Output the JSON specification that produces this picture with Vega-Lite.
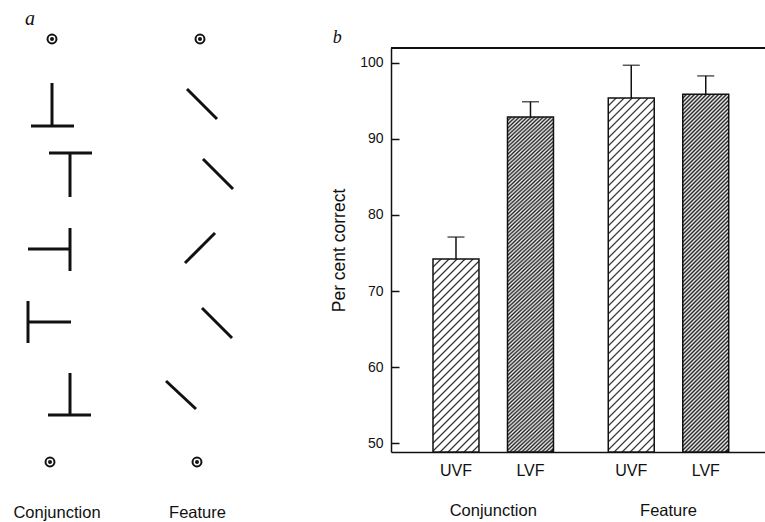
{
  "$schema": "https://vega.github.io/schema/vega-lite/v6.json",
  "padding": {"left": 0, "top": 9, "right": 0, "bottom": 0},
  "bounds": "flush",
  "spacing": 0,
  "config": {
    "view": {"stroke": null},
    "font": "Liberation Sans",
    "text": {"font": "Liberation Sans"},
    "axis": {"labelFont": "Liberation Sans", "titleFont": "Liberation Sans"}
  },
  "hconcat": [
    {
      "width": 391,
      "height": 404,
      "data": {"values": [
        {"kind": "seg", "x": 5.2, "y": 8.3, "x2": 5.2, "y2": 12.6},
        {"kind": "seg", "x": 3.1, "y": 12.6, "x2": 7.4, "y2": 12.6},
        {"kind": "seg", "x": 4.9, "y": 15.3, "x2": 9.2, "y2": 15.3},
        {"kind": "seg", "x": 7.0, "y": 15.3, "x2": 7.0, "y2": 19.7},
        {"kind": "seg", "x": 7.0, "y": 22.8, "x2": 7.0, "y2": 27.1},
        {"kind": "seg", "x": 2.8, "y": 24.9, "x2": 7.0, "y2": 24.9},
        {"kind": "seg", "x": 2.8, "y": 30.1, "x2": 2.8, "y2": 34.3},
        {"kind": "seg", "x": 2.8, "y": 32.2, "x2": 7.1, "y2": 32.2},
        {"kind": "seg", "x": 7.0, "y": 37.3, "x2": 7.0, "y2": 41.5},
        {"kind": "seg", "x": 4.8, "y": 41.5, "x2": 9.1, "y2": 41.5},
        {"kind": "seg", "x": 18.7, "y": 8.9, "x2": 21.7, "y2": 11.9},
        {"kind": "seg", "x": 20.3, "y": 15.9, "x2": 23.3, "y2": 18.9},
        {"kind": "seg", "x": 21.5, "y": 23.3, "x2": 18.5, "y2": 26.3},
        {"kind": "seg", "x": 20.2, "y": 30.8, "x2": 23.2, "y2": 33.8},
        {"kind": "seg", "x": 16.6, "y": 38.1, "x2": 19.6, "y2": 40.9},
        {"kind": "dot", "x": 5.2, "y": 3.9},
        {"kind": "dot", "x": 20.0, "y": 3.9},
        {"kind": "dot", "x": 5.0, "y": 46.2},
        {"kind": "dot", "x": 19.7, "y": 46.2},
        {"kind": "label", "x": 5.7, "y": 51.8, "text": "Conjunction"},
        {"kind": "label", "x": 19.75, "y": 51.8, "text": "Feature"},
        {"kind": "panel", "x": 2.5, "y": 2.5, "text": "a"}
      ]},
      "encoding": {
        "x": {"field": "x", "type": "quantitative", "scale": {"domain": [0, 39.1], "nice": false, "zero": false}, "axis": null},
        "y": {"field": "y", "type": "quantitative", "scale": {"domain": [4.8, 45.2], "nice": false, "zero": false, "reverse": true}, "axis": null}
      },
      "layer": [
        {
          "transform": [{"filter": "datum.kind === 'seg'"}],
          "mark": {"type": "rule", "strokeWidth": 3, "color": "#111", "strokeCap": "butt"},
          "encoding": {"x2": {"field": "x2"}, "y2": {"field": "y2"}}
        },
        {
          "transform": [{"filter": "datum.kind === 'dot'"}],
          "mark": {"type": "point", "shape": "circle", "size": 80, "stroke": "#111", "strokeWidth": 2, "filled": false, "opacity": 1}
        },
        {
          "transform": [{"filter": "datum.kind === 'dot'"}],
          "mark": {"type": "point", "shape": "circle", "size": 16, "filled": true, "color": "#111", "opacity": 1}
        },
        {
          "transform": [{"filter": "datum.kind === 'label'"}],
          "mark": {"type": "text", "fontSize": 16.5, "align": "center", "baseline": "alphabetic", "color": "#111"},
          "encoding": {"text": {"field": "text"}}
        },
        {
          "transform": [{"filter": "datum.kind === 'panel'"}],
          "mark": {"type": "text", "font": "Liberation Serif", "fontStyle": "italic", "fontSize": 20, "align": "left", "baseline": "alphabetic", "color": "#111"},
          "encoding": {"text": {"field": "text"}}
        }
      ]
    },
    {
      "width": 374,
      "height": 404,
      "title": {"text": "b", "anchor": "start", "dx": 2, "offset": 0, "font": "Liberation Serif", "fontStyle": "italic", "fontSize": 18, "fontWeight": "normal", "color": "#111"},
      "data": {"values": [
        {"group": "Conjunction", "field": "UVF", "pct": 74.2, "upper": 77.1},
        {"group": "Conjunction", "field": "LVF", "pct": 92.9, "upper": 94.9},
        {"group": "Feature", "field": "UVF", "pct": 95.4, "upper": 99.7},
        {"group": "Feature", "field": "LVF", "pct": 95.9, "upper": 98.3}
      ]},
      "layer": [
        {
          "mark": {"type": "rule", "color": "#111", "strokeWidth": 1.5},
          "encoding": {"y": {"datum": 101.97, "type": "quantitative"}}
        },
        {
          "mark": {"type": "bar", "stroke": "#111", "strokeWidth": 1.5},
          "encoding": {
            "x": {"field": "group", "type": "nominal", "sort": ["Conjunction", "Feature"],
              "scale": {"paddingInner": 0, "paddingOuter": 0.067, "align": 0.622},
              "axis": {"title": null, "ticks": false, "domainColor": "#111", "domainWidth": 1.5, "labelFontSize": 16.5, "labelColor": "#111", "labelAngle": 0, "labelPadding": 63, "labelBaseline": "alphabetic"}},
            "xOffset": {"field": "field", "type": "nominal", "sort": ["UVF", "LVF"], "scale": {"paddingInner": 0.383, "paddingOuter": 0.3677}},
            "y": {"field": "pct", "type": "quantitative",
              "scale": {"domain": [48.82, 101.97], "nice": false, "zero": false},
              "axis": {"values": [50, 60, 70, 80, 90, 100], "tickSize": -8, "labelPadding": 16, "tickWidth": 1.5, "tickColor": "#111", "domainColor": "#111", "domainWidth": 1.5, "labelFontSize": 14, "labelColor": "#111", "grid": false, "title": "Per cent correct", "titleFontSize": 17.5, "titleFontWeight": "normal", "titleColor": "#111", "titlePadding": 11}},
            "y2": {"datum": 48.82},
            "fill": {
              "condition": [
                {"test": "datum.group === 'Conjunction' && datum.field === 'UVF'", "value": {"gradient": "linear", "x1": 0, "y1": 0, "x2": 0.4676, "y2": 1.9622, "stops": [
                  {"offset":0,"color":"#222"},{"offset":0.004,"color":"#fff"},{"offset":0.016,"color":"#fff"},
                  {"offset":0.02,"color":"#222"},{"offset":0.024,"color":"#fff"},{"offset":0.036,"color":"#fff"},
                  {"offset":0.04,"color":"#222"},{"offset":0.044,"color":"#fff"},{"offset":0.056,"color":"#fff"},
                  {"offset":0.06,"color":"#222"},{"offset":0.064,"color":"#fff"},{"offset":0.076,"color":"#fff"},
                  {"offset":0.08,"color":"#222"},{"offset":0.084,"color":"#fff"},{"offset":0.096,"color":"#fff"},
                  {"offset":0.10,"color":"#222"},{"offset":0.104,"color":"#fff"},{"offset":0.116,"color":"#fff"},
                  {"offset":0.12,"color":"#222"},{"offset":0.124,"color":"#fff"},{"offset":0.136,"color":"#fff"},
                  {"offset":0.14,"color":"#222"},{"offset":0.144,"color":"#fff"},{"offset":0.156,"color":"#fff"},
                  {"offset":0.16,"color":"#222"},{"offset":0.164,"color":"#fff"},{"offset":0.176,"color":"#fff"},
                  {"offset":0.18,"color":"#222"},{"offset":0.184,"color":"#fff"},{"offset":0.196,"color":"#fff"},
                  {"offset":0.20,"color":"#222"},{"offset":0.204,"color":"#fff"},{"offset":0.216,"color":"#fff"},
                  {"offset":0.22,"color":"#222"},{"offset":0.224,"color":"#fff"},{"offset":0.236,"color":"#fff"},
                  {"offset":0.24,"color":"#222"},{"offset":0.244,"color":"#fff"},{"offset":0.256,"color":"#fff"},
                  {"offset":0.26,"color":"#222"},{"offset":0.264,"color":"#fff"},{"offset":0.276,"color":"#fff"},
                  {"offset":0.28,"color":"#222"},{"offset":0.284,"color":"#fff"},{"offset":0.296,"color":"#fff"},
                  {"offset":0.30,"color":"#222"},{"offset":0.304,"color":"#fff"},{"offset":0.316,"color":"#fff"},
                  {"offset":0.32,"color":"#222"},{"offset":0.324,"color":"#fff"},{"offset":0.336,"color":"#fff"},
                  {"offset":0.34,"color":"#222"},{"offset":0.344,"color":"#fff"},{"offset":0.356,"color":"#fff"},
                  {"offset":0.36,"color":"#222"},{"offset":0.364,"color":"#fff"},{"offset":0.376,"color":"#fff"},
                  {"offset":0.38,"color":"#222"},{"offset":0.384,"color":"#fff"},{"offset":0.396,"color":"#fff"},
                  {"offset":0.40,"color":"#222"},{"offset":0.404,"color":"#fff"},{"offset":0.416,"color":"#fff"},
                  {"offset":0.42,"color":"#222"},{"offset":0.424,"color":"#fff"},{"offset":0.436,"color":"#fff"},
                  {"offset":0.44,"color":"#222"},{"offset":0.444,"color":"#fff"},{"offset":0.456,"color":"#fff"},
                  {"offset":0.46,"color":"#222"},{"offset":0.464,"color":"#fff"},{"offset":0.476,"color":"#fff"},
                  {"offset":0.48,"color":"#222"},{"offset":0.484,"color":"#fff"},{"offset":0.496,"color":"#fff"},
                  {"offset":0.50,"color":"#222"},{"offset":0.504,"color":"#fff"},{"offset":0.516,"color":"#fff"},
                  {"offset":0.52,"color":"#222"},{"offset":0.524,"color":"#fff"},{"offset":0.536,"color":"#fff"},
                  {"offset":0.54,"color":"#222"},{"offset":0.544,"color":"#fff"},{"offset":0.556,"color":"#fff"},
                  {"offset":0.56,"color":"#222"},{"offset":0.564,"color":"#fff"},{"offset":0.576,"color":"#fff"},
                  {"offset":0.58,"color":"#222"},{"offset":0.584,"color":"#fff"},{"offset":0.596,"color":"#fff"},
                  {"offset":0.60,"color":"#222"}
                ]}},
                {"test": "datum.group === 'Feature' && datum.field === 'UVF'", "value": {"gradient": "linear", "x1": 0, "y1": 0, "x2": 0.14425, "y2": 1.111, "stops": [
                  {"offset":0,"color":"#222"},{"offset":0.004,"color":"#fff"},{"offset":0.016,"color":"#fff"},
                  {"offset":0.02,"color":"#222"},{"offset":0.024,"color":"#fff"},{"offset":0.036,"color":"#fff"},
                  {"offset":0.04,"color":"#222"},{"offset":0.044,"color":"#fff"},{"offset":0.056,"color":"#fff"},
                  {"offset":0.06,"color":"#222"},{"offset":0.064,"color":"#fff"},{"offset":0.076,"color":"#fff"},
                  {"offset":0.08,"color":"#222"},{"offset":0.084,"color":"#fff"},{"offset":0.096,"color":"#fff"},
                  {"offset":0.10,"color":"#222"},{"offset":0.104,"color":"#fff"},{"offset":0.116,"color":"#fff"},
                  {"offset":0.12,"color":"#222"},{"offset":0.124,"color":"#fff"},{"offset":0.136,"color":"#fff"},
                  {"offset":0.14,"color":"#222"},{"offset":0.144,"color":"#fff"},{"offset":0.156,"color":"#fff"},
                  {"offset":0.16,"color":"#222"},{"offset":0.164,"color":"#fff"},{"offset":0.176,"color":"#fff"},
                  {"offset":0.18,"color":"#222"},{"offset":0.184,"color":"#fff"},{"offset":0.196,"color":"#fff"},
                  {"offset":0.20,"color":"#222"},{"offset":0.204,"color":"#fff"},{"offset":0.216,"color":"#fff"},
                  {"offset":0.22,"color":"#222"},{"offset":0.224,"color":"#fff"},{"offset":0.236,"color":"#fff"},
                  {"offset":0.24,"color":"#222"},{"offset":0.244,"color":"#fff"},{"offset":0.256,"color":"#fff"},
                  {"offset":0.26,"color":"#222"},{"offset":0.264,"color":"#fff"},{"offset":0.276,"color":"#fff"},
                  {"offset":0.28,"color":"#222"},{"offset":0.284,"color":"#fff"},{"offset":0.296,"color":"#fff"},
                  {"offset":0.30,"color":"#222"},{"offset":0.304,"color":"#fff"},{"offset":0.316,"color":"#fff"},
                  {"offset":0.32,"color":"#222"},{"offset":0.324,"color":"#fff"},{"offset":0.336,"color":"#fff"},
                  {"offset":0.34,"color":"#222"},{"offset":0.344,"color":"#fff"},{"offset":0.356,"color":"#fff"},
                  {"offset":0.36,"color":"#222"},{"offset":0.364,"color":"#fff"},{"offset":0.376,"color":"#fff"},
                  {"offset":0.38,"color":"#222"},{"offset":0.384,"color":"#fff"},{"offset":0.396,"color":"#fff"},
                  {"offset":0.40,"color":"#222"},{"offset":0.404,"color":"#fff"},{"offset":0.416,"color":"#fff"},
                  {"offset":0.42,"color":"#222"},{"offset":0.424,"color":"#fff"},{"offset":0.436,"color":"#fff"},
                  {"offset":0.44,"color":"#222"},{"offset":0.444,"color":"#fff"},{"offset":0.456,"color":"#fff"},
                  {"offset":0.46,"color":"#222"},{"offset":0.464,"color":"#fff"},{"offset":0.476,"color":"#fff"},
                  {"offset":0.48,"color":"#222"},{"offset":0.484,"color":"#fff"},{"offset":0.496,"color":"#fff"},
                  {"offset":0.50,"color":"#222"},{"offset":0.504,"color":"#fff"},{"offset":0.516,"color":"#fff"},
                  {"offset":0.52,"color":"#222"},{"offset":0.524,"color":"#fff"},{"offset":0.536,"color":"#fff"},
                  {"offset":0.54,"color":"#222"},{"offset":0.544,"color":"#fff"},{"offset":0.556,"color":"#fff"},
                  {"offset":0.56,"color":"#222"},{"offset":0.564,"color":"#fff"},{"offset":0.576,"color":"#fff"},
                  {"offset":0.58,"color":"#222"},{"offset":0.584,"color":"#fff"},{"offset":0.596,"color":"#fff"},
                  {"offset":0.60,"color":"#222"},{"offset":0.604,"color":"#fff"},{"offset":0.616,"color":"#fff"},
                  {"offset":0.62,"color":"#222"},{"offset":0.624,"color":"#fff"},{"offset":0.636,"color":"#fff"},
                  {"offset":0.64,"color":"#222"},{"offset":0.644,"color":"#fff"},{"offset":0.656,"color":"#fff"},
                  {"offset":0.66,"color":"#222"},{"offset":0.664,"color":"#fff"},{"offset":0.676,"color":"#fff"},
                  {"offset":0.68,"color":"#222"},{"offset":0.684,"color":"#fff"},{"offset":0.696,"color":"#fff"},
                  {"offset":0.70,"color":"#222"},{"offset":0.704,"color":"#fff"},{"offset":0.716,"color":"#fff"},
                  {"offset":0.72,"color":"#222"},{"offset":0.724,"color":"#fff"},{"offset":0.736,"color":"#fff"},
                  {"offset":0.74,"color":"#222"},{"offset":0.744,"color":"#fff"},{"offset":0.756,"color":"#fff"},
                  {"offset":0.76,"color":"#222"},{"offset":0.764,"color":"#fff"},{"offset":0.776,"color":"#fff"},
                  {"offset":0.78,"color":"#222"},{"offset":0.784,"color":"#fff"},{"offset":0.796,"color":"#fff"},
                  {"offset":0.80,"color":"#222"},{"offset":0.804,"color":"#fff"},{"offset":0.816,"color":"#fff"},
                  {"offset":0.82,"color":"#222"},{"offset":0.824,"color":"#fff"},{"offset":0.836,"color":"#fff"},
                  {"offset":0.84,"color":"#222"},{"offset":0.844,"color":"#fff"},{"offset":0.856,"color":"#fff"},
                  {"offset":0.86,"color":"#222"},{"offset":0.864,"color":"#fff"},{"offset":0.876,"color":"#fff"},
                  {"offset":0.88,"color":"#222"},{"offset":0.884,"color":"#fff"},{"offset":0.896,"color":"#fff"},
                  {"offset":0.90,"color":"#222"},{"offset":0.904,"color":"#fff"},{"offset":0.916,"color":"#fff"},
                  {"offset":0.92,"color":"#222"},{"offset":0.924,"color":"#fff"},{"offset":0.936,"color":"#fff"},
                  {"offset":0.94,"color":"#222"},{"offset":0.944,"color":"#fff"},{"offset":0.956,"color":"#fff"},
                  {"offset":0.96,"color":"#222"},{"offset":0.964,"color":"#fff"},{"offset":0.976,"color":"#fff"},
                  {"offset":0.98,"color":"#222"},{"offset":0.984,"color":"#fff"},{"offset":0.996,"color":"#fff"},
                  {"offset":1,"color":"#222"}
                ]}}
              ],
              "value": {"gradient": "linear", "x1": 0, "y1": 0, "x2": 0.14125, "y2": 1.0996, "stops": [
                {"offset":0,"color":"#222"},{"offset":0.005,"color":"#eee"},{"offset":0.01,"color":"#222"},{"offset":0.015,"color":"#eee"},{"offset":0.02,"color":"#222"},{"offset":0.025,"color":"#eee"},{"offset":0.03,"color":"#222"},{"offset":0.035,"color":"#eee"},{"offset":0.04,"color":"#222"},{"offset":0.045,"color":"#eee"},
                {"offset":0.05,"color":"#222"},{"offset":0.055,"color":"#eee"},{"offset":0.06,"color":"#222"},{"offset":0.065,"color":"#eee"},{"offset":0.07,"color":"#222"},{"offset":0.075,"color":"#eee"},{"offset":0.08,"color":"#222"},{"offset":0.085,"color":"#eee"},{"offset":0.09,"color":"#222"},{"offset":0.095,"color":"#eee"},
                {"offset":0.1,"color":"#222"},{"offset":0.105,"color":"#eee"},{"offset":0.11,"color":"#222"},{"offset":0.115,"color":"#eee"},{"offset":0.12,"color":"#222"},{"offset":0.125,"color":"#eee"},{"offset":0.13,"color":"#222"},{"offset":0.135,"color":"#eee"},{"offset":0.14,"color":"#222"},{"offset":0.145,"color":"#eee"},
                {"offset":0.15,"color":"#222"},{"offset":0.155,"color":"#eee"},{"offset":0.16,"color":"#222"},{"offset":0.165,"color":"#eee"},{"offset":0.17,"color":"#222"},{"offset":0.175,"color":"#eee"},{"offset":0.18,"color":"#222"},{"offset":0.185,"color":"#eee"},{"offset":0.19,"color":"#222"},{"offset":0.195,"color":"#eee"},
                {"offset":0.2,"color":"#222"},{"offset":0.205,"color":"#eee"},{"offset":0.21,"color":"#222"},{"offset":0.215,"color":"#eee"},{"offset":0.22,"color":"#222"},{"offset":0.225,"color":"#eee"},{"offset":0.23,"color":"#222"},{"offset":0.235,"color":"#eee"},{"offset":0.24,"color":"#222"},{"offset":0.245,"color":"#eee"},
                {"offset":0.25,"color":"#222"},{"offset":0.255,"color":"#eee"},{"offset":0.26,"color":"#222"},{"offset":0.265,"color":"#eee"},{"offset":0.27,"color":"#222"},{"offset":0.275,"color":"#eee"},{"offset":0.28,"color":"#222"},{"offset":0.285,"color":"#eee"},{"offset":0.29,"color":"#222"},{"offset":0.295,"color":"#eee"},
                {"offset":0.3,"color":"#222"},{"offset":0.305,"color":"#eee"},{"offset":0.31,"color":"#222"},{"offset":0.315,"color":"#eee"},{"offset":0.32,"color":"#222"},{"offset":0.325,"color":"#eee"},{"offset":0.33,"color":"#222"},{"offset":0.335,"color":"#eee"},{"offset":0.34,"color":"#222"},{"offset":0.345,"color":"#eee"},
                {"offset":0.35,"color":"#222"},{"offset":0.355,"color":"#eee"},{"offset":0.36,"color":"#222"},{"offset":0.365,"color":"#eee"},{"offset":0.37,"color":"#222"},{"offset":0.375,"color":"#eee"},{"offset":0.38,"color":"#222"},{"offset":0.385,"color":"#eee"},{"offset":0.39,"color":"#222"},{"offset":0.395,"color":"#eee"},
                {"offset":0.4,"color":"#222"},{"offset":0.405,"color":"#eee"},{"offset":0.41,"color":"#222"},{"offset":0.415,"color":"#eee"},{"offset":0.42,"color":"#222"},{"offset":0.425,"color":"#eee"},{"offset":0.43,"color":"#222"},{"offset":0.435,"color":"#eee"},{"offset":0.44,"color":"#222"},{"offset":0.445,"color":"#eee"},
                {"offset":0.45,"color":"#222"},{"offset":0.455,"color":"#eee"},{"offset":0.46,"color":"#222"},{"offset":0.465,"color":"#eee"},{"offset":0.47,"color":"#222"},{"offset":0.475,"color":"#eee"},{"offset":0.48,"color":"#222"},{"offset":0.485,"color":"#eee"},{"offset":0.49,"color":"#222"},{"offset":0.495,"color":"#eee"},
                {"offset":0.5,"color":"#222"},{"offset":0.505,"color":"#eee"},{"offset":0.51,"color":"#222"},{"offset":0.515,"color":"#eee"},{"offset":0.52,"color":"#222"},{"offset":0.525,"color":"#eee"},{"offset":0.53,"color":"#222"},{"offset":0.535,"color":"#eee"},{"offset":0.54,"color":"#222"},{"offset":0.545,"color":"#eee"},
                {"offset":0.55,"color":"#222"},{"offset":0.555,"color":"#eee"},{"offset":0.56,"color":"#222"},{"offset":0.565,"color":"#eee"},{"offset":0.57,"color":"#222"},{"offset":0.575,"color":"#eee"},{"offset":0.58,"color":"#222"},{"offset":0.585,"color":"#eee"},{"offset":0.59,"color":"#222"},{"offset":0.595,"color":"#eee"},
                {"offset":0.6,"color":"#222"},{"offset":0.605,"color":"#eee"},{"offset":0.61,"color":"#222"},{"offset":0.615,"color":"#eee"},{"offset":0.62,"color":"#222"},{"offset":0.625,"color":"#eee"},{"offset":0.63,"color":"#222"},{"offset":0.635,"color":"#eee"},{"offset":0.64,"color":"#222"},{"offset":0.645,"color":"#eee"},
                {"offset":0.65,"color":"#222"},{"offset":0.655,"color":"#eee"},{"offset":0.66,"color":"#222"},{"offset":0.665,"color":"#eee"},{"offset":0.67,"color":"#222"},{"offset":0.675,"color":"#eee"},{"offset":0.68,"color":"#222"},{"offset":0.685,"color":"#eee"},{"offset":0.69,"color":"#222"},{"offset":0.695,"color":"#eee"},
                {"offset":0.7,"color":"#222"},{"offset":0.705,"color":"#eee"},{"offset":0.71,"color":"#222"},{"offset":0.715,"color":"#eee"},{"offset":0.72,"color":"#222"},{"offset":0.725,"color":"#eee"},{"offset":0.73,"color":"#222"},{"offset":0.735,"color":"#eee"},{"offset":0.74,"color":"#222"},{"offset":0.745,"color":"#eee"},
                {"offset":0.75,"color":"#222"},{"offset":0.755,"color":"#eee"},{"offset":0.76,"color":"#222"},{"offset":0.765,"color":"#eee"},{"offset":0.77,"color":"#222"},{"offset":0.775,"color":"#eee"},{"offset":0.78,"color":"#222"},{"offset":0.785,"color":"#eee"},{"offset":0.79,"color":"#222"},{"offset":0.795,"color":"#eee"},
                {"offset":0.8,"color":"#222"},{"offset":0.805,"color":"#eee"},{"offset":0.81,"color":"#222"},{"offset":0.815,"color":"#eee"},{"offset":0.82,"color":"#222"},{"offset":0.825,"color":"#eee"},{"offset":0.83,"color":"#222"},{"offset":0.835,"color":"#eee"},{"offset":0.84,"color":"#222"},{"offset":0.845,"color":"#eee"},
                {"offset":0.85,"color":"#222"},{"offset":0.855,"color":"#eee"},{"offset":0.86,"color":"#222"},{"offset":0.865,"color":"#eee"},{"offset":0.87,"color":"#222"},{"offset":0.875,"color":"#eee"},{"offset":0.88,"color":"#222"},{"offset":0.885,"color":"#eee"},{"offset":0.89,"color":"#222"},{"offset":0.895,"color":"#eee"},
                {"offset":0.9,"color":"#222"},{"offset":0.905,"color":"#eee"},{"offset":0.91,"color":"#222"},{"offset":0.915,"color":"#eee"},{"offset":0.92,"color":"#222"},{"offset":0.925,"color":"#eee"},{"offset":0.93,"color":"#222"},{"offset":0.935,"color":"#eee"},{"offset":0.94,"color":"#222"},{"offset":0.945,"color":"#eee"},
                {"offset":0.95,"color":"#222"},{"offset":0.955,"color":"#eee"},{"offset":0.96,"color":"#222"},{"offset":0.965,"color":"#eee"},{"offset":0.97,"color":"#222"},{"offset":0.975,"color":"#eee"},{"offset":0.98,"color":"#222"},{"offset":0.985,"color":"#eee"},{"offset":0.99,"color":"#222"},{"offset":0.995,"color":"#eee"},
                {"offset":1,"color":"#222"}
              ]}
            }
          }
        },
        {
          "mark": {"type": "rule", "color": "#111", "strokeWidth": 1.5},
          "encoding": {
            "x": {"field": "group", "type": "nominal", "sort": ["Conjunction", "Feature"]},
            "xOffset": {"field": "field", "type": "nominal", "sort": ["UVF", "LVF"]},
            "y": {"field": "pct", "type": "quantitative"},
            "y2": {"field": "upper"}
          }
        },
        {
          "mark": {"type": "tick", "orient": "horizontal", "color": "#111", "size": 17, "thickness": 1.5},
          "encoding": {
            "x": {"field": "group", "type": "nominal", "sort": ["Conjunction", "Feature"]},
            "xOffset": {"field": "field", "type": "nominal", "sort": ["UVF", "LVF"]},
            "y": {"field": "upper", "type": "quantitative"}
          }
        },
        {
          "mark": {"type": "text", "fontSize": 16, "color": "#111", "align": "center", "baseline": "alphabetic", "dy": 24},
          "encoding": {
            "x": {"field": "group", "type": "nominal", "sort": ["Conjunction", "Feature"]},
            "xOffset": {"field": "field", "type": "nominal", "sort": ["UVF", "LVF"]},
            "y": {"datum": 48.82, "type": "quantitative"},
            "text": {"field": "field"}
          }
        }
      ]
    }
  ]
}
